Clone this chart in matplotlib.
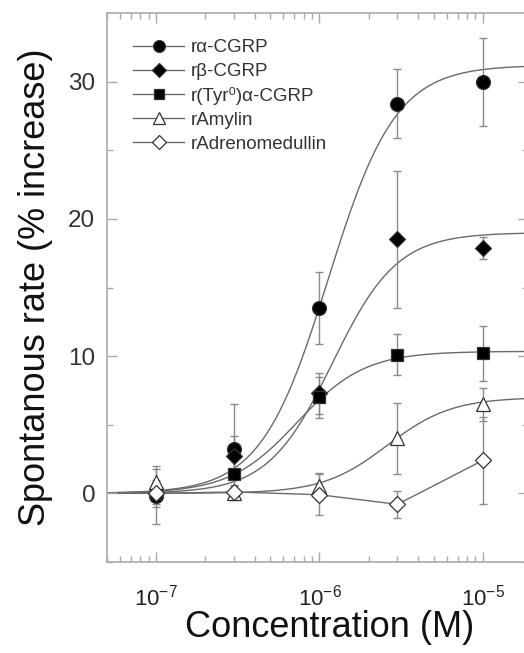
import numpy as np
import matplotlib
matplotlib.use('Agg')
import matplotlib.pyplot as plt
from matplotlib.ticker import LogLocator, NullFormatter, FixedLocator

plt.rcParams['font.family'] = ['Liberation Sans', 'DejaVu Sans']
plt.rcParams['mathtext.fontset'] = 'custom'
plt.rcParams['mathtext.rm'] = 'Liberation Sans'
plt.rcParams['mathtext.it'] = 'Liberation Sans'
plt.rcParams['mathtext.default'] = 'rm'

# ---- data ----
conc = np.array([1e-7, 3e-7, 1e-6, 3e-6, 1e-5])

alpha_mean = [-0.2, 3.2, 13.5, 28.4, 30.0]
alpha_err = [2.0, 3.3, 2.6, 2.5, 3.2]

beta_mean = [0.0, 2.7, 7.3, 18.5, 17.9]
beta_err = [1.0, 1.5, 1.5, 5.0, 0.8]

tyr_mean = [0.0, 1.4, 7.0, 10.1, 10.2]
tyr_err = [0.8, 1.2, 1.5, 1.5, 2.0]

amylin_mean = [0.8, 0.0, 0.5, 4.0, 6.5]
amylin_err = [1.2, 0.5, 1.0, 2.6, 1.2]

adm_mean = [0.0, 0.1, -0.1, -0.8, 2.4]
adm_err = [0.5, 0.5, 1.5, 1.0, 3.2]

# Hill fit parameters (top, EC50, slope), estimated from the drawn curves
fit_alpha = (31.2, 1.13e-6, 2.1)
fit_beta = (19.0, 1.2e-6, 2.2)
fit_tyr = (10.35, 7.3e-7, 2.1)
fit_amylin = (7.0, 2.6e-6, 2.2)

labels = ['r\u03b1-CGRP', 'r\u03b2-CGRP', 'r(Tyr\u2070)\u03b1-CGRP',
          'rAmylin', 'rAdrenomedullin']
xtick_labels = [r'10$^{-7}$', r'10$^{-6}$', r'10$^{-5}$']


def hill(x, p):
    top, ec, n = p
    return top * x**n / (x**n + ec**n)


fig = plt.figure(figsize=(5.24, 6.53), dpi=100)
ax = fig.add_axes([0.2042, 0.1394, 0.8034, 0.8406])

xmin, xmax = 5e-8, 1.89e-5
xx = np.logspace(np.log10(xmin), np.log10(xmax), 300)
curve_col = '#6a6a6a'
err_col = '#8a8a8a'

for p in (fit_alpha, fit_beta, fit_tyr, fit_amylin):
    ax.plot(xx, hill(xx, p), color=curve_col, lw=1.0, zorder=1)

# adrenomedullin: joined points
ax.plot(np.concatenate([[xmin], conc]), np.concatenate([[0], adm_mean]),
        color=curve_col, lw=1.0, zorder=1)

series = [
    (alpha_mean, alpha_err, 'o', 'k', 10),
    (beta_mean, beta_err, 'D', 'k', 8.5),
    (tyr_mean, tyr_err, 's', 'k', 9),
    (amylin_mean, amylin_err, '^', 'white', 10),
    (adm_mean, adm_err, 'D', 'white', 8.5),
]

handles = []
for (m, e, mk, fc, ms), lab in zip(series, labels):
    ax.errorbar(conc, m, yerr=e, fmt='none', ecolor=err_col, elinewidth=1.0,
                capsize=3, capthick=1.0, zorder=2)
    ax.plot(conc, m, ls='none', marker=mk, ms=ms, mfc=fc, mec='#333333',
            mew=0.9, zorder=3)
    h, = ax.plot([], [], color=curve_col, lw=1.0, marker=mk, ms=ms * 0.85,
                 mfc=fc, mec='#333333', mew=0.9)
    handles.append(h)

ax.set_xscale('log')
ax.set_xlim(xmin, xmax)
ax.set_ylim(-5, 35)

ax.xaxis.set_major_locator(FixedLocator([1e-7, 1e-6, 1e-5]))
ax.xaxis.set_minor_locator(LogLocator(base=10, subs=np.arange(2, 10)))
ax.xaxis.set_minor_formatter(NullFormatter())
ax.set_xticklabels(xtick_labels)
ax.set_yticks([0, 10, 20, 30])
ax.set_yticks([-5, 5, 15, 25], minor=True)

for s in ax.spines.values():
    s.set_color('#aaaaaa')
    s.set_linewidth(1.2)
ax.tick_params(which='both', direction='in', top=True, right=True,
               color='#aaaaaa', width=1.0)
ax.tick_params(which='major', length=7)
ax.tick_params(which='minor', length=4)
ax.tick_params(axis='x', labelsize=16, pad=16, labelcolor='#222222')
ax.tick_params(axis='y', labelsize=17.5, pad=8.5, labelcolor='#333333')

ax.set_xlabel('Concentration (M)', fontsize=26, color='#111111')
ax.xaxis.set_label_coords(0.53, -0.088)
ax.set_ylabel('Spontanous rate (% increase)', fontsize=26, color='#111111')
ax.yaxis.set_label_coords(-0.129, 0.5)

ax.legend(handles, labels, loc='upper left', bbox_to_anchor=(0.045, 0.966),
          frameon=False, fontsize=13.5, handlelength=2.7, handletextpad=0.37,
          labelspacing=0.36, borderaxespad=0, labelcolor='#333333')

fig.savefig('out.png', dpi=100)
